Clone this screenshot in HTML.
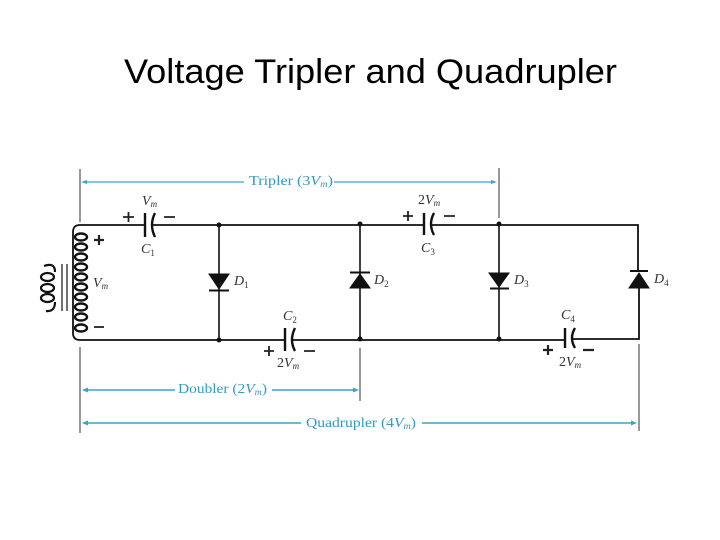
<!DOCTYPE html>
<html>
<head>
<meta charset="utf-8">
<style>
html,body{margin:0;padding:0;background:#fff;}
svg{display:block;}
.t{font-family:"Liberation Serif",serif;fill:#333;font-size:14px;}
.i{font-style:italic;}
.b{font-family:"Liberation Serif",serif;fill:#2f9bbd;font-size:14px;}
</style>
</head>
<body>
<svg width="720" height="540" viewBox="0 0 720 540" xmlns="http://www.w3.org/2000/svg">
<rect width="720" height="540" fill="#fff"/>
<text x="124" y="83" font-family="'Liberation Sans',sans-serif" font-size="34" fill="#000" textLength="493" lengthAdjust="spacingAndGlyphs">Voltage Tripler and Quadrupler</text>

<!-- extension ticks -->
<g stroke="#555" stroke-width="1.2" fill="none">
<path d="M80 169V222M80 347V433M499 168V218M360 348V401M639 344V431"/>
</g>

<!-- dimension lines -->
<g stroke="#3fa3c4" stroke-width="1.2" fill="none">
<path d="M84 182H244M334 182H494"/>
<path d="M84 390H175M272 390H356" stroke-width="1.4"/>
<path d="M84 423H301M422 423H635" stroke-width="1.4"/>
</g>
<g fill="#3fa3c4">
<path d="M81 182l6-2v4zM497 182l-6-2v4z"/>
<path d="M82 390l6-2.500v5zM359 390l-6-2.500v5z"/>
<path d="M82 423l6-2.500v5zM637 423l-6-2.500v5z"/>
</g>
<text class="b" x="249" y="185" textLength="84" lengthAdjust="spacingAndGlyphs">Tripler (3<tspan font-style="italic">V<tspan font-size="9" dy="2">m</tspan></tspan><tspan dy="-2">)</tspan></text>
<text class="b" x="178" y="393" textLength="89" lengthAdjust="spacingAndGlyphs">Doubler (2<tspan font-style="italic">V<tspan font-size="9" dy="2">m</tspan></tspan><tspan dy="-2">)</tspan></text>
<text class="b" x="306" y="427" textLength="110" lengthAdjust="spacingAndGlyphs">Quadrupler (4<tspan font-style="italic">V<tspan font-size="9" dy="2">m</tspan></tspan><tspan dy="-2">)</tspan></text>

<!-- wires -->
<g stroke="#111" fill="none" stroke-width="1.600">
<path d="M73 232Q73 225 80 225H145M152 225H424M431 225H638V271" stroke-width="1.800"/>
<path d="M73 232V333Q73 340 80 340H285M293 340H565M572 339H639V288" stroke-width="1.800"/>
<path d="M219 225V340M360 225V340M499 225V340"/>
</g>

<!-- secondary coil -->
<g stroke="#111" stroke-width="2.400" fill="none">
<ellipse cx="81" cy="237" rx="6" ry="3.500"/>
<ellipse cx="81" cy="247" rx="6" ry="3.500"/>
<ellipse cx="81" cy="257" rx="6" ry="3.500"/>
<ellipse cx="81" cy="267" rx="6" ry="3.500"/>
<ellipse cx="81" cy="277" rx="6" ry="3.500"/>
<ellipse cx="81" cy="287" rx="6" ry="3.500"/>
<ellipse cx="81" cy="297" rx="6" ry="3.500"/>
<ellipse cx="81" cy="307" rx="6" ry="3.500"/>
<ellipse cx="81" cy="317" rx="6" ry="3.500"/>
<ellipse cx="81" cy="328" rx="6" ry="3.500"/>
</g>
<!-- core -->
<path d="M62 264V311M67 264V311" stroke="#444" stroke-width="1.500" fill="none"/>
<!-- primary coil -->
<g stroke="#111" stroke-width="2.200" fill="none">
<path d="M44 266Q55 262 55 272"/>
<ellipse cx="47.500" cy="277" rx="6.500" ry="4"/>
<ellipse cx="47.500" cy="288" rx="6.500" ry="4"/>
<ellipse cx="47.500" cy="298" rx="6.500" ry="4"/>
<path d="M55 302Q55 312 46 311"/>
</g>

<!-- capacitors -->
<g stroke="#111" stroke-width="2.400" fill="none">
<path d="M145 213V237M155 213Q149 225 155 237"/>
<path d="M424 213V235M434 213Q428 224 434 235"/>
<path d="M285 328V351M295 328Q289 340 295 351"/>
<path d="M565 328V348M575 328Q569 338 575 348"/>
</g>

<!-- diodes -->
<g fill="#111" stroke="#111">
<path d="M209 274H229L219 289Z"/><path d="M209 290.500H229" stroke-width="2" fill="none"/>
<path d="M350 288H370L360 274Z"/><path d="M350 272.500H370" stroke-width="2" fill="none"/>
<path d="M489 273H509L499 287Z"/><path d="M490 288.500H509" stroke-width="2" fill="none"/>
<path d="M629 288H649L639 273Z"/><path d="M630 271H648" stroke-width="2" fill="none"/>
</g>

<!-- junction dots -->
<g fill="#111">
<circle cx="219" cy="225" r="2.500"/>
<circle cx="360" cy="224" r="2.500"/>
<circle cx="499" cy="224" r="2.500"/>
<circle cx="219" cy="340" r="2.500"/>
<circle cx="360" cy="339" r="2.500"/>
<circle cx="499" cy="339" r="2.500"/>
</g>

<!-- polarity marks -->
<g stroke="#222" stroke-width="1.800" fill="none">
<path d="M123 217H134M128.500 212V222M164 217H175"/>
<path d="M94 240H104M99 235V245" stroke-width="2.200"/>
<path d="M94 327H104"/>
<path d="M403 216H413M408 211V221M444 216H455"/>
<path d="M264 351H274M269 346V356M304 351H315"/>
<path d="M543 350H553M548 345V355M583 350H594" stroke-width="2.200"/>
</g>

<!-- labels -->
<text class="t i" x="142" y="205">V<tspan font-size="9" dy="2">m</tspan></text>
<text class="t i" x="141" y="253">C<tspan font-size="9" dy="3" font-style="normal">1</tspan></text>
<text class="t i" x="93" y="287">V<tspan font-size="9" dy="2">m</tspan></text>
<text class="t" x="418" y="204">2<tspan font-style="italic">V<tspan font-size="9" dy="2">m</tspan></tspan></text>
<text class="t i" x="421" y="252">C<tspan font-size="9" dy="3" font-style="normal">3</tspan></text>
<text class="t i" x="283" y="320">C<tspan font-size="9" dy="3" font-style="normal">2</tspan></text>
<text class="t" x="277" y="367">2<tspan font-style="italic">V<tspan font-size="9" dy="2">m</tspan></tspan></text>
<text class="t i" x="561" y="319">C<tspan font-size="9" dy="3" font-style="normal">4</tspan></text>
<text class="t" x="559" y="366">2<tspan font-style="italic">V<tspan font-size="9" dy="2">m</tspan></tspan></text>
<text class="t i" x="234" y="285">D<tspan font-size="9" dy="3" font-style="normal">1</tspan></text>
<text class="t i" x="374" y="284">D<tspan font-size="9" dy="3" font-style="normal">2</tspan></text>
<text class="t i" x="514" y="284">D<tspan font-size="9" dy="3" font-style="normal">3</tspan></text>
<text class="t i" x="654" y="283">D<tspan font-size="9" dy="3" font-style="normal">4</tspan></text>
</svg>
</body>
</html>
